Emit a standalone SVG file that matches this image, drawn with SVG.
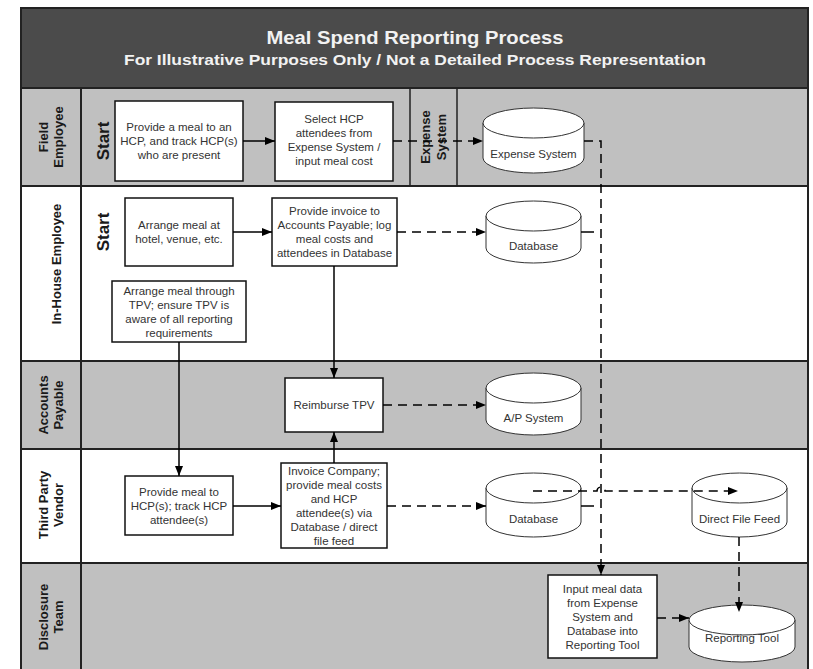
<svg xmlns="http://www.w3.org/2000/svg" width="813" height="669" viewBox="0 0 813 669">
<defs>
<marker id="ah" markerUnits="userSpaceOnUse" markerWidth="10" markerHeight="8" refX="10" refY="4" orient="auto"><path d="M0,0 L10,4 L0,8 z" fill="#000"/></marker>
<style>
.lane-g{fill:#c0c0c0;stroke:#222;stroke-width:2}
.lane-w{fill:#fff;stroke:#222;stroke-width:2}
.box{fill:#fff;stroke:#111;stroke-width:1.5}
.cyl{fill:#fff;stroke:#333;stroke-width:1}
.t{font-family:"Liberation Sans",Arial,sans-serif;font-size:11.5px;fill:#333;text-anchor:middle;dominant-baseline:central}
.lbl{font-family:"Liberation Sans",Arial,sans-serif;font-size:13px;font-weight:bold;fill:#1a1a1a;text-anchor:middle;dominant-baseline:central}
.start{font-family:"Liberation Sans",Arial,sans-serif;font-size:17px;font-weight:bold;fill:#1a1a1a;text-anchor:middle;dominant-baseline:central}
.solid{fill:none;stroke:#000;stroke-width:1.5}
.dash{fill:none;stroke:#000;stroke-width:1.5;stroke-dasharray:9,6}
.arr{marker-end:url(#ah)}
</style>
</defs>

<g id="header">
<rect x="21" y="8" width="787" height="80" fill="#4b4b4b" stroke="#222" stroke-width="2"/>
<text x="415" y="38" font-family="'Liberation Sans',Arial,sans-serif" font-size="18" font-weight="bold" fill="#f2f2f2" text-anchor="middle" dominant-baseline="central" textLength="297" lengthAdjust="spacingAndGlyphs">Meal Spend Reporting Process</text>
<text x="415" y="60" font-family="'Liberation Sans',Arial,sans-serif" font-size="14" font-weight="bold" fill="#f2f2f2" text-anchor="middle" dominant-baseline="central" textLength="582" lengthAdjust="spacingAndGlyphs">For Illustrative Purposes Only / Not a Detailed Process Representation</text>
</g>

<g id="lanes">
<rect class="lane-g" x="21" y="88" width="787" height="98"/>
<rect class="lane-w" x="21" y="186" width="787" height="175"/>
<rect class="lane-g" x="21" y="361" width="787" height="88"/>
<rect class="lane-w" x="21" y="449" width="787" height="114"/>
<rect class="lane-g" x="21" y="563" width="787" height="110"/>
<line x1="81" y1="88" x2="81" y2="669" stroke="#222" stroke-width="2"/>
<line x1="410" y1="88" x2="410" y2="186" stroke="#222" stroke-width="1.5"/>
<line x1="457" y1="88" x2="457" y2="186" stroke="#222" stroke-width="1.5"/>
<text class="lbl" transform="translate(50,137) rotate(-90)"><tspan x="0" y="-7.5">Field</tspan><tspan x="0" y="7.5">Employee</tspan></text>
<text class="lbl" transform="translate(56,264) rotate(-90)">In-House Employee</text>
<text class="lbl" transform="translate(50,405) rotate(-90)"><tspan x="0" y="-7.5">Accounts</tspan><tspan x="0" y="7.5">Payable</tspan></text>
<text class="lbl" transform="translate(50,505) rotate(-90)"><tspan x="0" y="-7.5">Third Party</tspan><tspan x="0" y="7.5">Vendor</tspan></text>
<text class="lbl" transform="translate(50,617) rotate(-90)"><tspan x="0" y="-7.5">Disclosure</tspan><tspan x="0" y="7.5">Team</tspan></text>
<text class="lbl" transform="translate(433,137) rotate(-90)"><tspan x="0" y="-8">Expense</tspan><tspan x="0" y="8">System</tspan></text>
<text class="start" transform="translate(103,141) rotate(-90)">Start</text>
<text class="start" transform="translate(103,232) rotate(-90)">Start</text>
</g>

<g id="n1"><rect class="box" x="115" y="101" width="128" height="80"/><text class="t"><tspan x="179" y="127">Provide a meal to an</tspan><tspan x="179" y="141">HCP, and track HCP(s)</tspan><tspan x="179" y="155">who are present</tspan></text></g>
<g id="n2"><rect class="box" x="275" y="102" width="118" height="79"/><text class="t"><tspan x="334" y="119">Select HCP</tspan><tspan x="334" y="133">attendees from</tspan><tspan x="334" y="147">Expense System /</tspan><tspan x="334" y="161">input meal cost</tspan></text></g>
<g id="expense-system"><path class="cyl" d="M483,123 V158 A50.5,15 0 0 0 584,158 V123 Z"/><ellipse class="cyl" cx="533.5" cy="123" rx="50.5" ry="15"/><text class="t" x="533.5" y="154">Expense System</text></g>

<g id="n3"><rect class="box" x="125" y="198" width="108" height="68"/><text class="t"><tspan x="179" y="225">Arrange meal at</tspan><tspan x="179" y="239">hotel, venue, etc.</tspan></text></g>
<g id="n4"><rect class="box" x="272" y="198" width="125" height="68"/><text class="t"><tspan x="334.5" y="211">Provide invoice to</tspan><tspan x="334.5" y="225">Accounts Payable; log</tspan><tspan x="334.5" y="239">meal costs and</tspan><tspan x="334.5" y="253">attendees in Database</tspan></text></g>
<g id="n5"><rect class="box" x="112" y="281" width="134" height="61"/><text class="t"><tspan x="179" y="291">Arrange meal through</tspan><tspan x="179" y="305">TPV; ensure TPV is</tspan><tspan x="179" y="319">aware of all reporting</tspan><tspan x="179" y="333">requirements</tspan></text></g>
<g id="database-1"><path class="cyl" d="M486,216 V248 A47.5,15 0 0 0 581,248 V216 Z"/><ellipse class="cyl" cx="533.5" cy="216" rx="47.5" ry="15"/><text class="t" x="533.5" y="246">Database</text></g>

<g id="n6"><rect class="box" x="285" y="378" width="98" height="54"/><text class="t" x="334" y="405">Reimburse TPV</text></g>
<g id="ap-system"><path class="cyl" d="M486,388 V420 A47.5,15 0 0 0 581,420 V388 Z"/><ellipse class="cyl" cx="533.5" cy="388" rx="47.5" ry="15"/><text class="t" x="533.5" y="418">A/P System</text></g>

<g id="n7"><rect class="box" x="125" y="476" width="108" height="59"/><text class="t"><tspan x="179" y="492">Provide meal to</tspan><tspan x="179" y="506">HCP(s); track HCP</tspan><tspan x="179" y="520">attendee(s)</tspan></text></g>
<g id="n8"><rect class="box" x="281" y="463" width="106" height="85"/><text class="t"><tspan x="334" y="471">Invoice Company;</tspan><tspan x="334" y="485">provide meal costs</tspan><tspan x="334" y="499">and HCP</tspan><tspan x="334" y="513">attendee(s) via</tspan><tspan x="334" y="527">Database / direct</tspan><tspan x="334" y="541">file feed</tspan></text></g>
<g id="database-2"><path class="cyl" d="M486,488 V522 A47.5,15 0 0 0 581,522 V488 Z"/><ellipse class="cyl" cx="533.5" cy="488" rx="47.5" ry="15"/><text class="t" x="533.5" y="519">Database</text></g>
<g id="direct-file-feed"><path class="cyl" d="M692,488 V522 A47.5,15 0 0 0 787,522 V488 Z"/><ellipse class="cyl" cx="739.5" cy="488" rx="47.5" ry="15"/><text class="t" x="739.5" y="519">Direct File Feed</text></g>

<g id="n9"><rect class="box" x="548" y="575" width="109" height="83"/><text class="t"><tspan x="602.5" y="589">Input meal data</tspan><tspan x="602.5" y="603">from Expense</tspan><tspan x="602.5" y="617">System and</tspan><tspan x="602.5" y="631">Database into</tspan><tspan x="602.5" y="645">Reporting Tool</tspan></text></g>
<g id="reporting-tool"><path class="cyl" d="M689,620 V647 A53,15 0 0 0 795,647 V620 Z"/><ellipse class="cyl" cx="742" cy="620" rx="53" ry="15"/><text class="t" x="742" y="638">Reporting Tool</text></g>

<g id="connectors">
<line class="solid arr" x1="243" y1="141" x2="275" y2="141"/>
<line class="dash arr" x1="393" y1="141" x2="483" y2="141"/>
<path class="dash arr" d="M584,141 H601 V575"/>
<line class="solid arr" x1="233" y1="232" x2="272" y2="232"/>
<line class="dash arr" x1="397" y1="232" x2="486" y2="232"/>
<path class="solid" d="M581,232 H594"/>
<line class="solid arr" x1="334" y1="266" x2="334" y2="378"/>
<line class="solid arr" x1="179" y1="342" x2="179" y2="476"/>
<line class="dash arr" x1="383" y1="405" x2="486" y2="405"/>
<line class="solid arr" x1="334" y1="463" x2="334" y2="432"/>
<line class="solid arr" x1="233" y1="506" x2="281" y2="506"/>
<line class="dash arr" x1="387" y1="506" x2="486" y2="506"/>
<path class="solid" d="M581,506 H594"/>
<path class="dash arr" d="M533,491 H597 A4,4 0 0 1 605,491 H738"/>
<path class="dash arr" d="M739,537 V612"/>
<path class="dash arr" d="M657,618 H689"/>
</g>
</svg>
